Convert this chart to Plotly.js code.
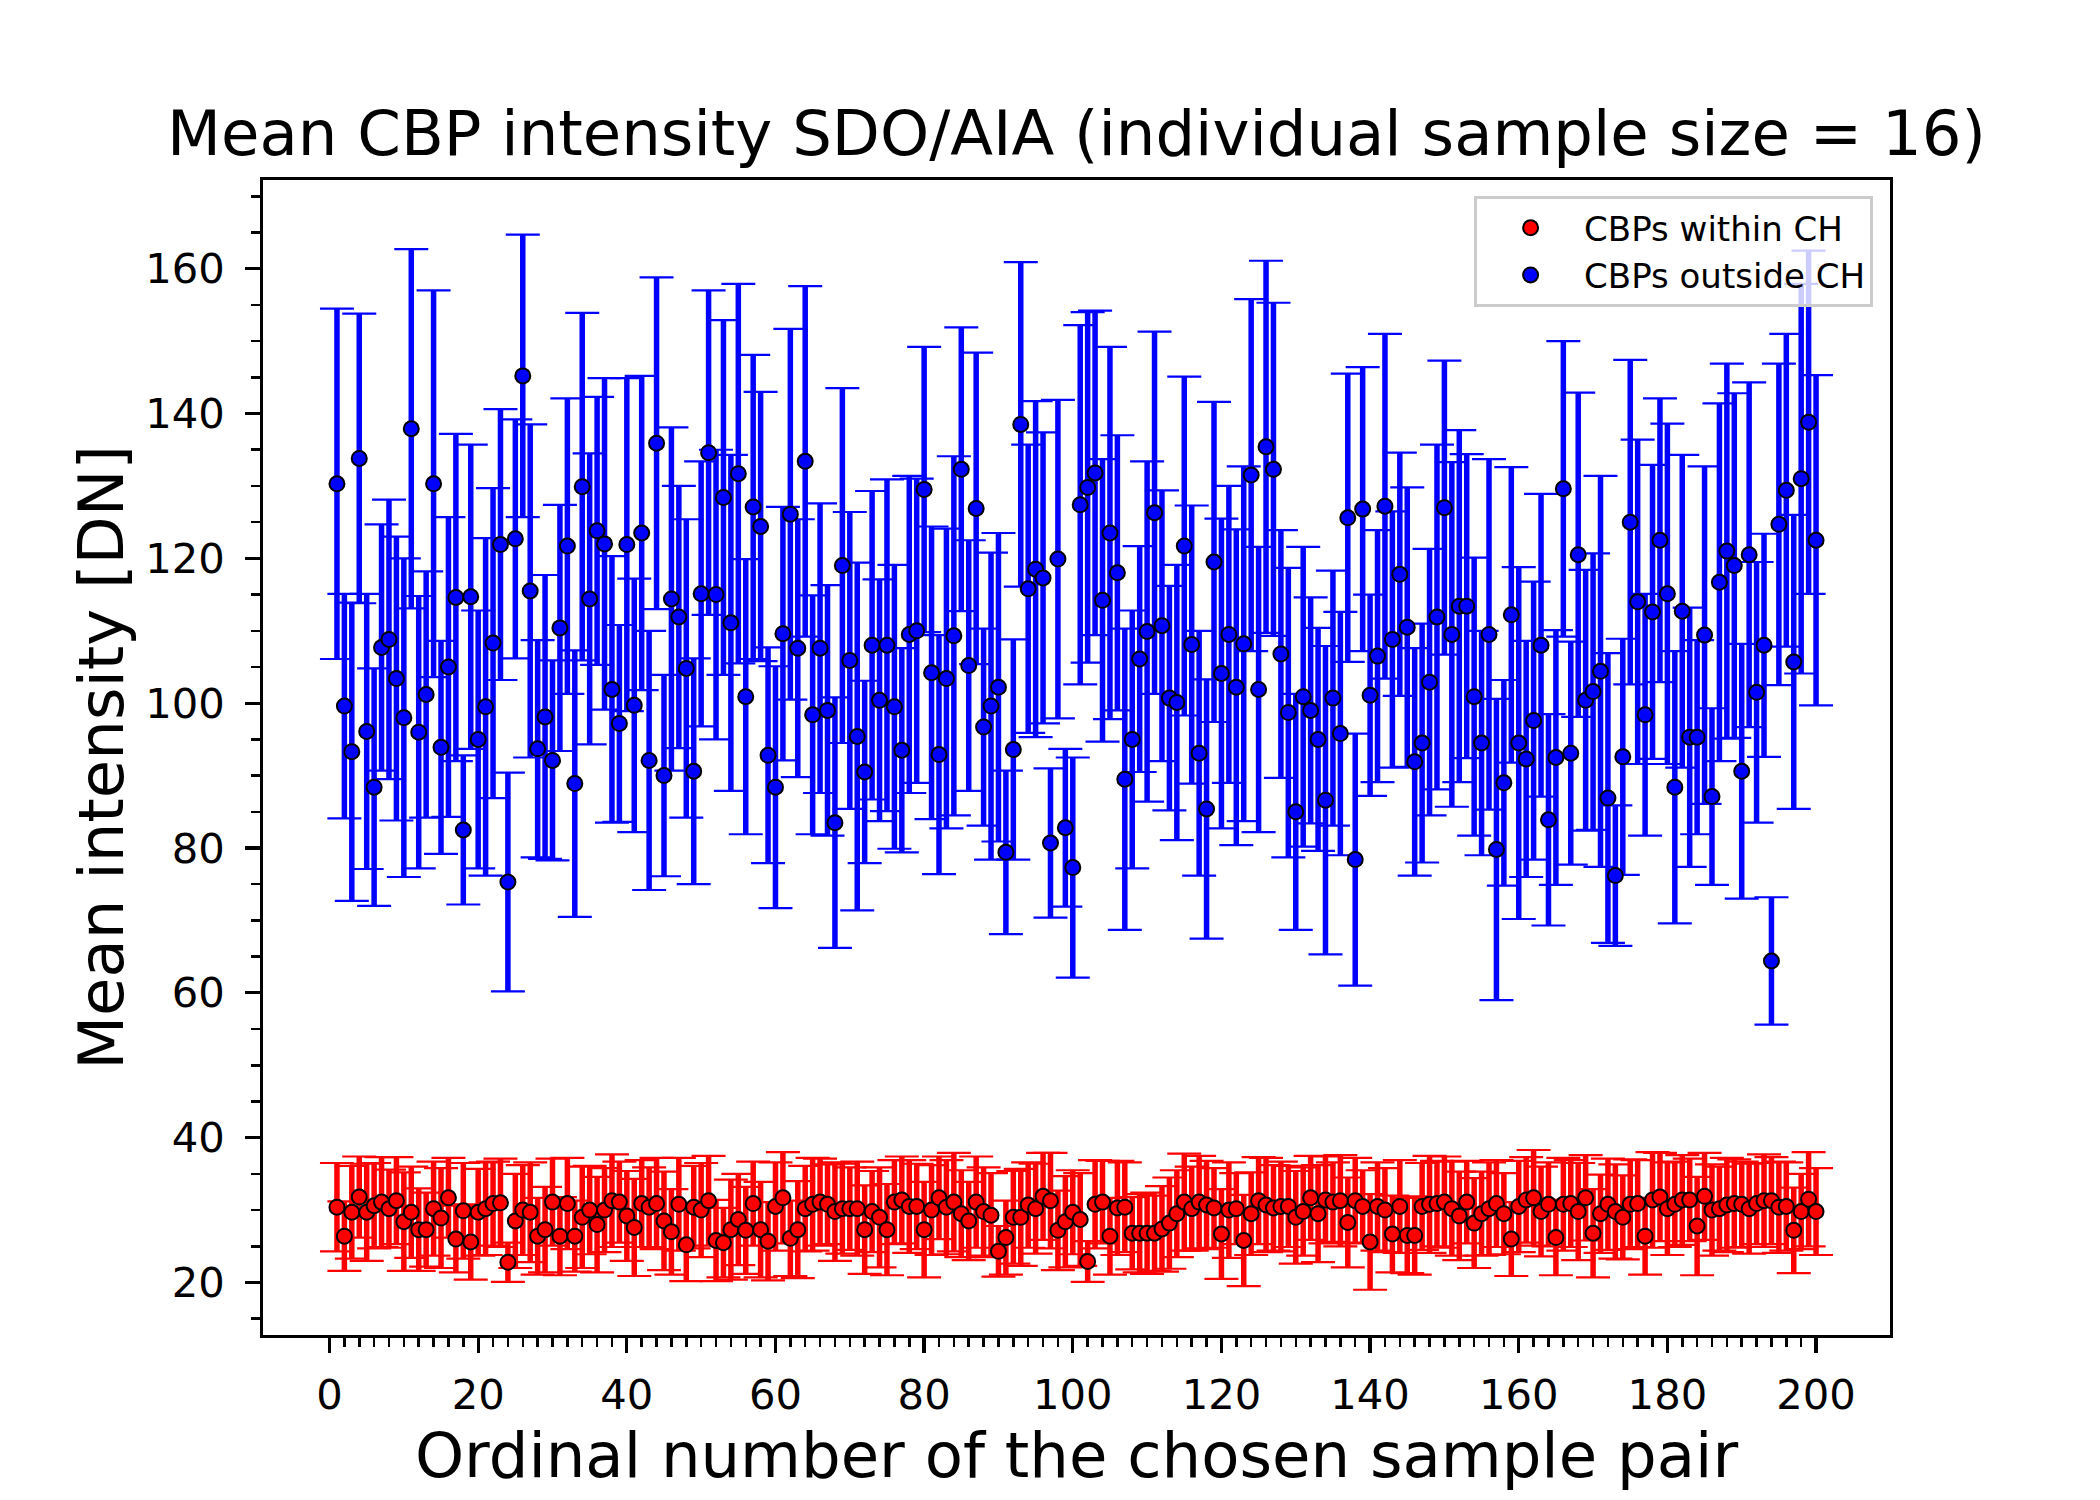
<!DOCTYPE html>
<html><head><meta charset="utf-8">
<script src="https://cdn.plot.ly/plotly-3.0.1.min.js"></script>
<style>html,body{margin:0;padding:0;background:#fff}#chart{width:2100px;height:1500px}</style>
</head><body><div id="chart"></div>
<script>
// ordinal number of the chosen sample pair (1..200)
const samplePair = Array.from({length: 200}, (_, i) => i + 1);

// CBPs within CH: mean intensity [DN]
const withinMean = [
  30.4,26.4,29.7,31.8,29.7,30.6,31.1,30.2,31.3,28.4,
  29.7,27.3,27.3,30.2,28.9,31.7,26.0,29.9,25.6,29.7,
  30.2,30.9,31.0,22.8,28.5,30.0,29.7,26.4,27.3,31.1,
  26.4,30.9,26.4,29.0,30.0,28.0,30.0,31.3,31.1,29.2,
  27.6,30.9,30.4,30.9,28.5,27.0,30.8,25.2,30.4,30.0,
  31.3,25.8,25.5,27.3,28.7,27.2,30.9,27.3,25.7,30.5,
  31.7,26.1,27.3,30.2,30.8,31.1,30.8,29.8,30.2,30.2,
  30.2,27.3,29.8,29.0,27.3,31.1,31.4,30.5,30.5,27.3,
  30.0,31.7,30.4,31.1,29.5,28.5,31.1,29.8,29.3,24.3,
  26.2,29.0,29.0,30.7,30.2,31.9,31.3,27.2,28.4,29.7,
  28.7,22.9,30.8,31.1,26.4,30.3,30.4,26.8,26.8,26.8,
  26.8,27.4,28.2,29.5,31.1,30.2,31.1,30.7,30.3,26.7,
  30.0,30.2,25.8,29.5,31.3,30.7,30.3,30.5,30.5,29.0,
  29.8,31.7,29.5,31.4,31.1,31.3,28.3,31.3,30.5,25.6,
  30.5,30.0,26.7,30.5,26.5,26.5,30.5,30.8,30.9,31.1,
  30.2,29.2,31.1,28.2,29.5,30.2,30.9,29.5,26.0,30.5,
  31.4,31.7,29.8,30.8,26.2,30.8,30.9,29.8,31.7,26.8,
  29.5,30.8,29.8,29.0,30.8,30.9,26.4,31.4,31.8,30.2,
  30.8,31.4,31.4,27.8,31.9,30.0,30.2,30.7,30.9,30.8,
  30.2,30.9,31.3,31.3,30.4,30.5,27.2,29.8,31.5,29.8
];
// CBPs within CH: error (half-length of bar)
const withinErr = [
  6.1,4.8,6.4,5.6,6.7,5.9,6.2,5.4,6.0,6.8,
  6.3,5.7,5.1,6.5,6.9,5.5,4.6,6.6,5.2,6.0,
  6.4,5.8,6.1,2.7,6.5,6.2,6.9,5.3,5.9,6.0,
  5.4,6.3,4.9,7.0,6.1,6.6,5.8,6.4,5.6,6.2,
  6.7,6.0,5.5,6.3,6.8,5.9,6.4,5.0,5.7,6.5,
  6.2,5.6,4.8,6.9,6.3,6.0,5.8,6.6,5.4,6.1,
  6.3,5.2,6.7,5.9,6.4,6.0,5.5,6.8,6.2,5.7,
  6.5,6.1,5.6,6.9,6.3,5.8,6.0,6.4,5.9,6.6,
  6.2,5.7,6.5,6.8,6.0,5.4,6.3,6.1,5.8,3.5,
  5.1,6.4,6.7,5.9,6.2,6.0,6.6,5.5,6.3,5.8,
  6.4,2.8,6.1,5.7,5.3,6.5,6.2,5.0,5.4,5.6,
  5.2,5.9,6.3,6.0,6.7,5.8,6.4,6.1,5.5,6.2,
  6.6,4.9,6.3,5.7,6.0,6.5,5.9,6.2,5.6,6.4,
  6.1,5.8,6.7,6.0,5.5,6.3,6.2,5.9,5.0,6.6,
  6.1,5.8,5.3,6.4,5.2,5.4,6.0,6.7,5.9,6.3,
  6.5,6.1,5.7,6.2,5.8,6.4,6.0,5.6,5.1,6.3,
  5.9,6.6,6.2,5.8,5.2,6.4,6.0,6.7,5.9,6.1,
  5.4,6.3,6.5,5.8,6.2,6.0,5.3,6.6,6.1,6.4,
  5.9,6.2,5.7,6.8,6.0,6.3,5.8,6.5,6.1,5.9,
  6.2,5.6,6.4,6.0,6.3,6.1,5.9,5.2,6.5,6.0
];

// CBPs outside CH: mean intensity [DN]
const outsideMean = [
  130.3,99.6,93.3,133.8,96.1,88.4,107.7,108.8,103.4,98.0,
  137.9,96.0,101.2,130.3,93.9,105.0,114.6,82.5,114.7,95.0,
  99.5,108.3,121.9,75.3,122.7,145.2,115.5,93.7,98.1,92.1,
  110.4,121.7,88.9,129.9,114.4,123.8,122.0,101.9,97.2,121.9,
  99.7,123.5,92.1,135.9,90.0,114.4,111.9,104.8,90.6,115.1,
  134.6,115.0,128.4,111.1,131.7,100.9,127.1,124.4,92.8,88.4,
  109.6,126.1,107.6,133.4,98.4,107.6,99.0,83.5,119.0,105.9,
  95.4,90.5,108.0,100.4,108.0,99.5,93.5,109.5,110.0,129.5,
  104.2,92.9,103.4,109.3,132.3,105.2,126.9,96.7,99.6,102.2,
  79.4,93.6,138.5,115.8,118.5,117.3,80.7,119.9,82.8,77.3,
  127.4,129.8,131.8,114.2,123.5,118.0,89.5,95.0,106.1,109.9,
  126.3,110.7,100.7,100.1,121.7,108.1,93.1,85.4,119.5,104.1,
  109.5,102.2,108.2,131.5,101.9,135.4,132.3,106.8,98.7,85.0,
  100.9,99.0,95.0,86.6,100.7,95.8,125.6,78.4,126.8,101.1,
  106.5,127.2,108.8,117.8,110.5,91.9,94.5,102.9,111.9,127.0,
  109.5,113.4,113.4,100.9,94.5,109.5,79.8,89.0,112.2,94.5,
  92.3,97.6,108.0,83.9,92.5,129.6,93.1,120.5,100.4,101.6,
  104.4,86.9,76.2,92.6,125.0,114.0,98.4,112.6,122.5,115.1,
  88.4,112.7,95.3,95.3,109.4,87.1,116.7,121.0,119.0,90.6,
  120.5,101.5,108.0,64.4,124.7,129.4,105.7,131.0,138.8,122.5
];
// CBPs outside CH: error (half-length of bar)
const outsideErr = [
  24.2,15.5,20.6,20.0,19.0,16.4,17.0,19.3,19.6,22.0,
  24.8,18.8,17.0,26.7,14.7,20.7,22.6,10.3,21.0,17.8,
  23.3,21.4,18.7,15.1,16.5,19.5,23.0,15.0,19.6,13.8,
  17.0,20.4,18.4,24.0,20.1,18.5,22.9,18.4,13.6,23.0,
  17.5,21.7,17.9,22.9,13.9,23.7,18.1,20.6,15.6,18.3,
  22.4,20.0,24.5,23.2,26.2,19.0,21.0,18.6,14.9,16.7,
  17.5,25.6,17.8,24.2,16.5,20.0,17.3,17.3,24.5,20.5,
  24.0,12.6,21.3,16.7,22.9,19.6,14.1,21.9,21.0,19.7,
  20.2,16.5,20.7,24.8,19.6,17.3,21.5,13.6,21.2,21.3,
  11.3,15.2,22.4,19.9,23.2,20.1,10.3,22.0,10.9,15.2,
  24.8,24.2,22.4,19.5,25.7,19.0,20.8,17.8,15.6,23.5,
  25.0,18.7,15.5,19.0,23.4,19.2,16.9,17.9,22.1,21.4,
  20.5,21.8,24.5,24.3,19.7,25.7,23.0,17.1,20.0,16.3,
  20.7,15.6,15.4,21.3,17.6,16.8,19.9,17.4,19.6,13.9,
  17.4,23.8,17.7,16.8,19.3,15.7,16.5,18.4,23.8,20.3,
  23.8,24.3,21.0,19.2,15.5,24.2,20.8,14.2,20.4,24.3,
  16.3,19.2,20.9,14.6,17.6,20.4,15.4,22.4,18.0,19.1,
  27.0,20.0,9.7,16.3,22.4,22.4,16.7,20.3,19.6,23.5,
  18.8,21.6,17.9,13.4,23.3,12.2,24.7,25.9,23.8,17.6,
  23.8,18.0,15.4,8.8,22.2,21.6,20.3,26.9,23.7,22.8
];

const seriesNames = ['CBPs within CH', 'CBPs outside CH'];
const xTicks = [0, 20, 40, 60, 80, 100, 120, 140, 160, 180, 200];
const xMinorTicks = [2,4,6,8,10,12,14,16,18,22,24,26,28,30,32,34,36,38,42,44,46,48,50,52,54,56,58,
  62,64,66,68,70,72,74,76,78,82,84,86,88,90,92,94,96,98,102,104,106,108,110,112,114,116,118,
  122,124,126,128,130,132,134,136,138,142,144,146,148,150,152,154,156,158,162,164,166,168,170,172,174,176,178,
  182,184,186,188,190,192,194,196,198];
const yTicks = [20, 40, 60, 80, 100, 120, 140, 160];

const FONT = 'DejaVu Sans, Verdana, sans-serif';

function stemTrace(y, err, color) {
  return {
    x: samplePair, y: y, type: 'scatter', mode: 'markers',
    marker: {opacity: 0, size: 2, color: color},
    error_y: {type: 'data', array: err, visible: true, color: color, thickness: 5.5, width: 0},
    showlegend: false, hoverinfo: 'skip'
  };
}
function pointTrace(y, err, color, name) {
  return {
    x: samplePair, y: y, type: 'scatter', mode: 'markers', name: name,
    marker: {color: color, size: 15, line: {color: '#000000', width: 2}},
    error_y: {type: 'data', array: err, visible: true, color: color, thickness: 2.2, width: 17}
  };
}

const data = [
  stemTrace(withinMean, withinErr, '#ff0000'),
  pointTrace(withinMean, withinErr, '#ff0000', seriesNames[0]),
  stemTrace(outsideMean, outsideErr, '#0000ff'),
  pointTrace(outsideMean, outsideErr, '#0000ff', seriesNames[1])
];

const axisCommon = {
  showgrid: false, zeroline: false,
  showline: true, mirror: true, linecolor: '#000000', linewidth: 3.3,
  ticks: 'outside', ticklen: 14.6, tickwidth: 3.3, tickcolor: '#000000',
  tickfont: {family: FONT, size: 41.7, color: '#000000'}
};

const layout = {
  width: 2100, height: 1500,
  paper_bgcolor: '#ffffff', plot_bgcolor: '#ffffff',
  margin: {l: 262.5, r: 210, t: 180, b: 165},
  font: {family: FONT, color: '#000000'},
  title: {
    text: 'Mean CBP intensity SDO/AIA (individual sample size = 16)',
    font: {family: FONT, size: 62.5, color: '#000000'},
    x: 0.5, xref: 'paper', xanchor: 'center',
    y: 0.911, yref: 'container', yanchor: 'middle'
  },
  xaxis: Object.assign({}, axisCommon, {
    range: [-8.95, 209.95],
    tickmode: 'array', tickvals: xTicks, ticktext: xTicks.map(String),
    ticklabelstandoff: 6,
    minor: {tickmode: 'array', tickvals: xMinorTicks, ticks: 'outside', ticklen: 8.3, tickwidth: 2.5, tickcolor: '#000000', showgrid: false},
    title: {text: 'Ordinal number of the chosen sample pair', font: {family: FONT, size: 62.5, color: '#000000'}, standoff: 4}
  }),
  yaxis: Object.assign({}, axisCommon, {
    range: [12.75, 172.25],
    tickmode: 'array', tickvals: yTicks, ticktext: yTicks.map(String),
    ticklabelstandoff: 12,
    minor: {dtick: 5, tick0: 0, ticks: 'outside', ticklen: 8.3, tickwidth: 2.5, tickcolor: '#000000', showgrid: false},
    title: {text: 'Mean intensity [DN]', font: {family: FONT, size: 62.5, color: '#000000'}, standoff: 2}
  }),
  showlegend: true,
  legend: {
    x: 0.9896, xanchor: 'right', y: 0.986, yanchor: 'top',
    bgcolor: 'rgba(255,255,255,0.8)', bordercolor: '#cccccc', borderwidth: 3,
    font: {family: FONT, size: 34, color: '#000000'},
    tracegroupgap: 0, itemwidth: 97
  }
};

Plotly.newPlot('chart', data, layout, {staticPlot: true, displayModeBar: false});
</script>
</body></html>
